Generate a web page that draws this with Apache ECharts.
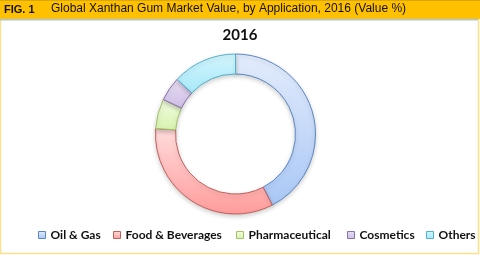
<!DOCTYPE html>
<html>
<head>
<meta charset="utf-8">
<style>
  html, body { margin: 0; padding: 0; background: #ffffff; }
  #chart { width: 480px; height: 255px; }
</style>
<script src="https://cdn.jsdelivr.net/npm/echarts@6/dist/echarts.min.js"></script>
</head>
<body>
<div id="chart"></div>
<script>
// Application segments and their share of 2016 market value (%)
const categories = ['Oil & Gas', 'Food & Beverages', 'Pharmaceutical', 'Cosmetics', 'Others'];
const shares = [42.4, 33.7, 6.0, 4.9, 13.0];
const figLabel = 'FIG. 1';
const figTitle = 'Global Xanthan Gum Market Value, by Application, 2016 (Value %)';
const yearLabel = '2016';

// Light-to-darker vertical fills with a darker outline for each segment
const palette = [
  { top: '#e3ecfc', bottom: '#a9c7f5', edge: '#5b87c4' },
  { top: '#ffdcdc', bottom: '#ff9c9c', edge: '#c0605c' },
  { top: '#f1fbe0', bottom: '#d8f3b0', edge: '#a2c367' },
  { top: '#e8def3', bottom: '#cdbde6', edge: '#8a72aa' },
  { top: '#d2f5fd', bottom: '#a8e8f8', edge: '#52b2cc' }
];

// left edge of each legend entry
const legendLeft = [38, 113, 236, 347, 426];

function gradient(p) {
  return new echarts.graphic.LinearGradient(0, 0, 0, 1, [
    { offset: 0, color: p.top },
    { offset: 1, color: p.bottom }
  ]);
}

const chart = echarts.init(document.getElementById('chart'), null, { renderer: 'canvas' });

const data = categories.map((name, i) => ({
  name: name,
  value: shares[i],
  itemStyle: {
    color: gradient(palette[i]),
    borderColor: palette[i].edge,
    borderWidth: 1
  }
}));

const legends = categories.map((name, i) => ({
  top: 229,
  left: legendLeft[i],
  padding: 0,
  icon: 'rect',
  itemWidth: 7,
  itemHeight: 7,
  textStyle: { fontFamily: 'Lato', fontWeight: 'bold', fontSize: 12, color: '#111111' },
  data: [{
    name: name,
    itemStyle: { color: gradient(palette[i]), borderColor: palette[i].edge, borderWidth: 1 }
  }]
}));

chart.setOption({
  animation: false,
  backgroundColor: '#ffffff',
  graphic: [
    // page frame
    { type: 'rect', shape: { x: 0.5, y: 0.5, width: 478, height: 253 },
      style: { fill: 'none', stroke: '#fde08a', lineWidth: 1.5 }, z: 0 },
    // header band
    { type: 'rect', shape: { x: 0, y: 0, width: 480, height: 19 },
      style: { fill: '#ffc000' }, z: 1 },
    { type: 'rect', shape: { x: 0, y: 0, width: 480, height: 1 },
      style: { fill: '#d9a800' }, z: 1 },
    { type: 'rect', shape: { x: 0, y: 19, width: 478, height: 1.5 },
      style: { fill: '#a9c6ea' }, z: 1 },
    { type: 'text', left: 4, top: 4, z: 2,
      style: { text: figLabel, fill: '#111111', font: 'bold 11px "Liberation Sans", Arial, sans-serif' } },
    { type: 'text', left: 51, top: 3, z: 2,
      style: { text: figTitle, fill: '#111111', font: '12px "Liberation Sans", Arial, sans-serif' } }
  ],
  title: {
    text: yearLabel,
    left: 'center',
    top: 23,
    textStyle: { fontFamily: 'Lato', fontWeight: 'bold', fontSize: 15, color: '#111111' }
  },
  legend: legends,
  series: [{
    type: 'pie',
    center: [235.5, 134],
    radius: [60, 80],
    startAngle: 90,
    clockwise: true,
    label: { show: false },
    labelLine: { show: false },
    emphasis: { disabled: true },
    itemStyle: {
      shadowBlur: 4,
      shadowOffsetY: 2,
      shadowColor: 'rgba(0,0,0,0.18)'
    },
    data: data
  }]
});
</script>
</body>
</html>
